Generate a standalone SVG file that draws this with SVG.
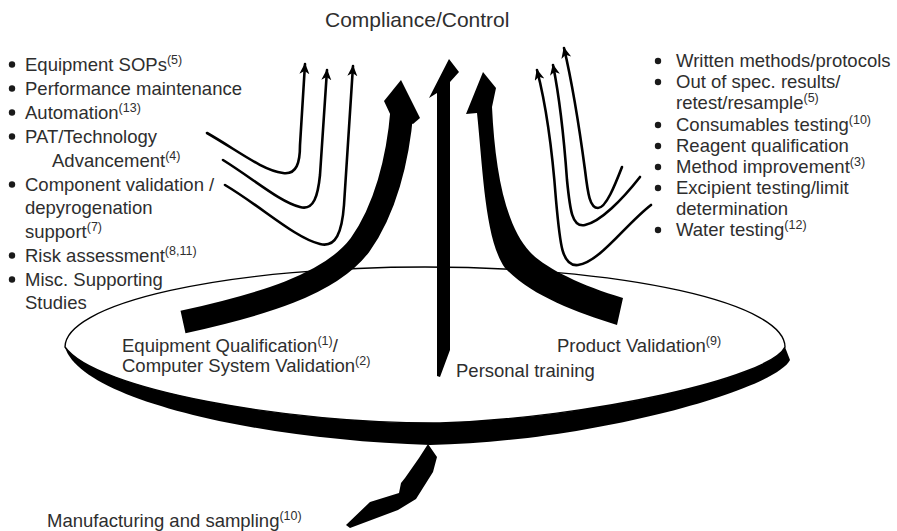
<svg xmlns="http://www.w3.org/2000/svg" width="897" height="531" viewBox="0 0 897 531">
<style>
text{font-family:"Liberation Sans",Arial,sans-serif;font-size:18.5px;fill:#2e2e2e}
.sup{font-size:12.5px}
.title{font-size:21px}
.bul{fill:#1a1a1a}
.thin{fill:none;stroke:#000;stroke-width:2.6;stroke-linecap:round;marker-end:url(#ah)}
.blk{fill:#000}
</style>
<defs>
<marker id="ah" markerUnits="userSpaceOnUse" markerWidth="14" markerHeight="12" refX="10" refY="5" orient="auto">
<path d="M0,0 L11,5 L0,10 L3,5 Z" fill="#000"/>
</marker>
</defs>
<rect width="897" height="531" fill="#fff"/>

<g id="title"><text class="title" x="325" y="27">Compliance/Control</text></g>

<g id="disk">
<path class="blk" d="M65,347 C80,400 260,440 430,445 C590,442 775,390 790,360 L785,347 Z"/>
<path d="M65,347 A360,80 0 0 1 785,347 C770,378 590,418 440,423 C290,424 95,390 65,347 Z" fill="#fff" stroke="#000" stroke-width="1.4"/>
</g>

<g id="connectors">
<path id="arrow-left-thick" d="M183,322 C260,305 330,285 360,245 C385,210 398,160 402,110" fill="none" stroke="#000" stroke-width="23"/>
<polygon class="blk" points="384,101 401,80 420,118 413,124 391,116"/>
<path id="arrow-right-thick" class="blk" d="M477,113 C483,170 485,240 505,268 C530,295 575,312 617,325 L623,298 C580,285 545,268 530,252 C505,225 495,170 492,107 L496,88 L483,72 L466,114 Z"/>
<polygon id="arrow-center" class="blk" points="437,376 437,93 429,98 449,59 459,72 450,82 450,350 440,377"/>
<polygon id="arrow-manufacturing" class="blk" points="428,444 437,457 433,472 416,499 398,510 350,528 346,525 370,502 399,493 401,483 405,478 419,458"/>
<path class="thin" d="M207,133 C240,152 262,170 283,173 C297,175 300,162 300,145 L305,64"/>
<path class="thin" d="M223,160 C255,180 280,202 300,207 C314,211 318,195 320,175 L327,70"/>
<path class="thin" d="M225,185 C262,207 295,238 320,244 C336,248 342,232 344,205 L353,66"/>
<path class="thin" d="M651,205 C625,225 600,262 578,265 C562,267 560,245 556,200 Q550,120 537,70"/>
<path class="thin" d="M640,177 C622,200 600,222 585,225 C572,228 570,210 567,180 Q562,110 553,65"/>
<path class="thin" d="M622,167 C615,185 606,208 598,208 C590,208 588,195 585,170 Q575,95 564,48"/>
</g>

<g id="left-list">
<circle class="bul" cx="12" cy="64.5" r="3.2"/>
<text x="25" y="70.5">Equipment SOPs<tspan class="sup" dy="-7">(5)</tspan></text>
<circle class="bul" cx="12" cy="88.5" r="3.2"/>
<text x="25" y="94.7">Performance maintenance</text>
<circle class="bul" cx="12" cy="112.5" r="3.2"/>
<text x="25" y="118.5">Automation<tspan class="sup" dy="-7">(13)</tspan></text>
<circle class="bul" cx="12" cy="136.5" r="3.2"/>
<text x="25" y="142.7">PAT/Technology</text>
<text x="52" y="166.8">Advancement<tspan class="sup" dy="-7">(4)</tspan></text>
<circle class="bul" cx="12" cy="184.5" r="3.2"/>
<text x="25" y="190.5">Component validation /</text>
<text x="25" y="214">depyrogenation</text>
<text x="25" y="237.5">support<tspan class="sup" dy="-7">(7)</tspan></text>
<circle class="bul" cx="12" cy="255.5" r="3.2"/>
<text x="25" y="261.5">Risk assessment<tspan class="sup" dy="-7">(8,11)</tspan></text>
<circle class="bul" cx="12" cy="279.5" r="3.2"/>
<text x="25" y="285.5">Misc. Supporting</text>
<text x="25" y="309">Studies</text>
</g>

<g id="right-list">
<circle class="bul" cx="658" cy="61" r="3.2"/>
<text x="676" y="67">Written methods/protocols</text>
<circle class="bul" cx="658" cy="82" r="3.2"/>
<text x="676" y="88">Out of spec. results/</text>
<text x="676" y="109">retest/resample<tspan class="sup" dy="-7">(5)</tspan></text>
<circle class="bul" cx="658" cy="125" r="3.2"/>
<text x="676" y="131">Consumables testing<tspan class="sup" dy="-7">(10)</tspan></text>
<circle class="bul" cx="658" cy="146" r="3.2"/>
<text x="676" y="152">Reagent qualification</text>
<circle class="bul" cx="658" cy="167" r="3.2"/>
<text x="676" y="173">Method improvement<tspan class="sup" dy="-7">(3)</tspan></text>
<circle class="bul" cx="658" cy="188" r="3.2"/>
<text x="676" y="194">Excipient testing/limit</text>
<text x="676" y="215">determination</text>
<circle class="bul" cx="658" cy="230" r="3.2"/>
<text x="676" y="236">Water testing<tspan class="sup" dy="-7">(12)</tspan></text>
</g>

<g id="node-equipment-qualification">
<text x="122" y="352">Equipment Qualification<tspan class="sup" dy="-7">(1)</tspan><tspan dy="7">/</tspan></text>
<text x="122" y="372">Computer System Validation<tspan class="sup" dy="-7">(2)</tspan></text>
</g>
<g id="node-product-validation"><text x="557" y="352">Product Validation<tspan class="sup" dy="-7">(9)</tspan></text></g>
<g id="node-personal-training"><text x="456" y="377">Personal training</text></g>
<g id="node-manufacturing"><text x="47" y="527">Manufacturing and sampling<tspan class="sup" dy="-7">(10)</tspan></text></g>
</svg>
